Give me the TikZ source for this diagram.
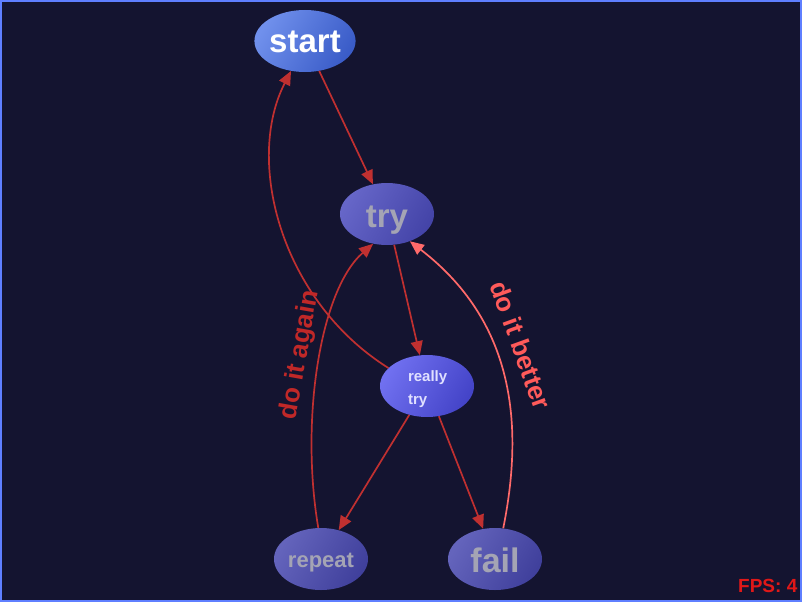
\documentclass[tikz,border=0pt]{standalone}
\usepackage{fontspec}
\setmainfont{Liberation Sans}
\usetikzlibrary{arrows.meta,shapes.geometric}
\definecolor{bgc}{HTML}{141430}
\definecolor{bordc}{HTML}{5F7FFF}
\definecolor{edgec}{HTML}{C03030}
\definecolor{edgeb}{HTML}{FF6A6A}
\definecolor{lbla}{HTML}{C02828}
\definecolor{lblb}{HTML}{FF5A5A}
\definecolor{startl}{HTML}{7090EC}
\definecolor{startd}{HTML}{3A5CC8}
\definecolor{tryl}{HTML}{6666C8}
\definecolor{tryd}{HTML}{4444A8}
\definecolor{reall}{HTML}{7070F0}
\definecolor{reald}{HTML}{4444C8}
\definecolor{repl}{HTML}{6464BC}
\definecolor{repd}{HTML}{40409C}
\definecolor{grayt}{HTML}{A4A4B4}
\definecolor{realt}{HTML}{E0E0FF}
\definecolor{fpsc}{HTML}{E01818}
\newcommand{\basedown}[2]{\raisebox{-#1}[0pt][0pt]{#2}}
\tikzset{
  gnode/.style={ellipse, minimum width=94pt, minimum height=62pt, inner sep=0pt},
  edge/.style={draw=edgec, line width=1.7pt, -{Triangle[length=14pt,width=12pt]}},
  edgelight/.style={draw=edgeb, line width=1.7pt, -{Triangle[length=14pt,width=12pt]}},
  elabel/.style={font=\bfseries\fontsize{26}{26}\selectfont, inner sep=0pt}
}
\begin{document}
\begin{tikzpicture}[x=1pt,y=-1pt]
\fill[bgc] (0,0) rectangle (802,602);
\useasboundingbox (0,0) rectangle (802,602);

\node[gnode, left color=startl, right color=startd, shading angle=60, text=white, font=\bfseries\fontsize{33}{33}\selectfont] (start) at (305,41) {\basedown{12pt}{start}};
\node[gnode, left color=tryl, right color=tryd, shading angle=60, text=grayt, font=\bfseries\fontsize{33}{33}\selectfont] (try) at (387,214) {\basedown{13pt}{try}};
\node[gnode, left color=reall, right color=reald, shading angle=60, text=realt, font=\bfseries\fontsize{15}{22}\selectfont] (really) at (427,386) {\makebox[38pt][l]{\rlap{\raisebox{4.5pt}[0pt][0pt]{really}}\basedown{18.5pt}{try}}};
\node[gnode, left color=repl, right color=repd, shading angle=60, text=grayt, font=\bfseries\fontsize{22}{22}\selectfont] (repeat) at (321,559) {\basedown{8pt}{repeat}};
\node[gnode, left color=repl, right color=repd, shading angle=60, text=grayt, font=\bfseries\fontsize{34}{34}\selectfont] (fail) at (495,559) {\basedown{13pt}{fail}};

\draw[edge] (start) -- (try);
\draw[edge] (try) -- (really);
\draw[edge] (really) -- (repeat);
\draw[edge] (really) -- (fail);
\draw[edge] (really.155) .. controls (280,300) and (245,160) .. (start.-115);
\draw[edge] (repeat.95) .. controls (300,420) and (320,290) .. (try.-115);
\draw[edgelight] (fail.75) .. controls (525,420) and (512,320) .. (try.-50);

\node[elabel, text=lbla, rotate=80] (lagain) at (300,355) {do it again};
\node[elabel, text=lblb, rotate=-70] (lbetter) at (521,345) {do it better};

\node[font=\bfseries\fontsize{19}{19}\selectfont, text=fpsc, anchor=base west, inner sep=0pt] (fps) at (738,592) {FPS: 4};
\draw[bordc, line width=2pt] (1,1) rectangle (801,601);
\end{tikzpicture}
\end{document}
